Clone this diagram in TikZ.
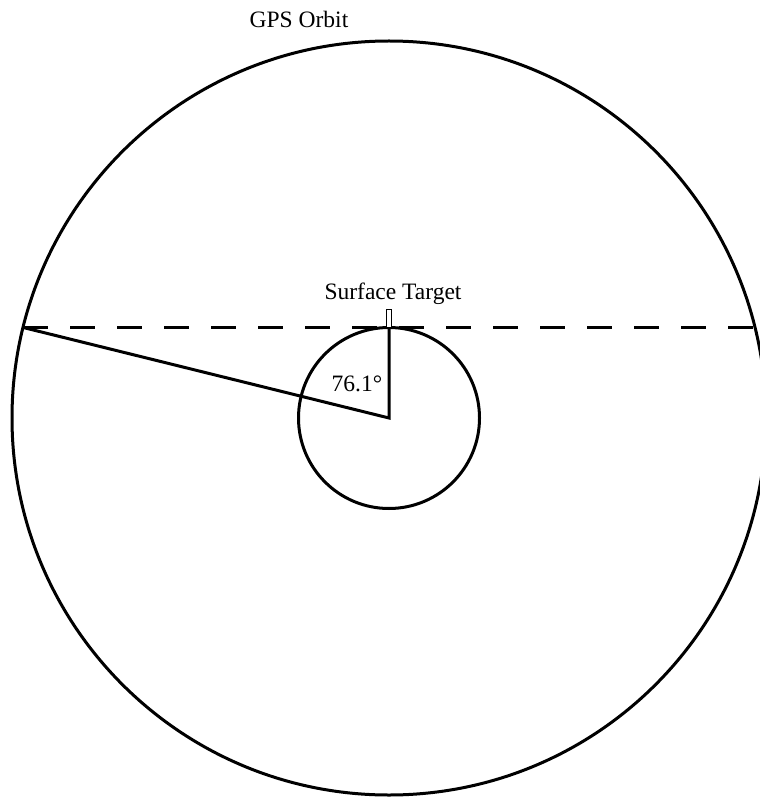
\documentclass[tikz,border=0pt]{standalone}
\usepackage{fontspec}
\setmainfont{Liberation Serif}
\begin{document}
\begin{tikzpicture}[x=1pt,y=-1pt,
  lbl/.style={inner sep=0pt, font=\fontsize{23.5}{26}\selectfont},
  thick line/.style={line width=3pt},
  dash line/.style={line width=3pt, dash pattern=on 25pt off 22pt}]
\useasboundingbox (0,0) rectangle (759,799);
\coordinate (O) at (389,418);
\coordinate (P) at ({389-377*sin(76.1)},{418-377*cos(76.1)});
\coordinate (Q) at ({389+377*sin(76.1)},{418-377*cos(76.1)});
\coordinate (T) at (389,{418-377*cos(76.1)});
% orbit and earth
\draw[thick line] (O) circle[radius=377];
\draw[thick line] (O) circle[radius=90.5];
% dashed tangent line
\draw[dash line] (P) -- (Q);
% lines from centre
\draw[thick line, line join=miter] (P) -- (O) -- (T);
% surface target marker
\draw[line width=1.8pt, fill=white] ([xshift=-2.5pt]T) rectangle ([xshift=2.5pt,yshift=18pt]T);
% labels
\node[lbl] (orbit) at (299,19) {GPS Orbit};
\node[lbl] (target) at (393,294) {Surface Target};
\node[lbl] (angle) at (357,384) {76.1°};
\end{tikzpicture}
\end{document}
